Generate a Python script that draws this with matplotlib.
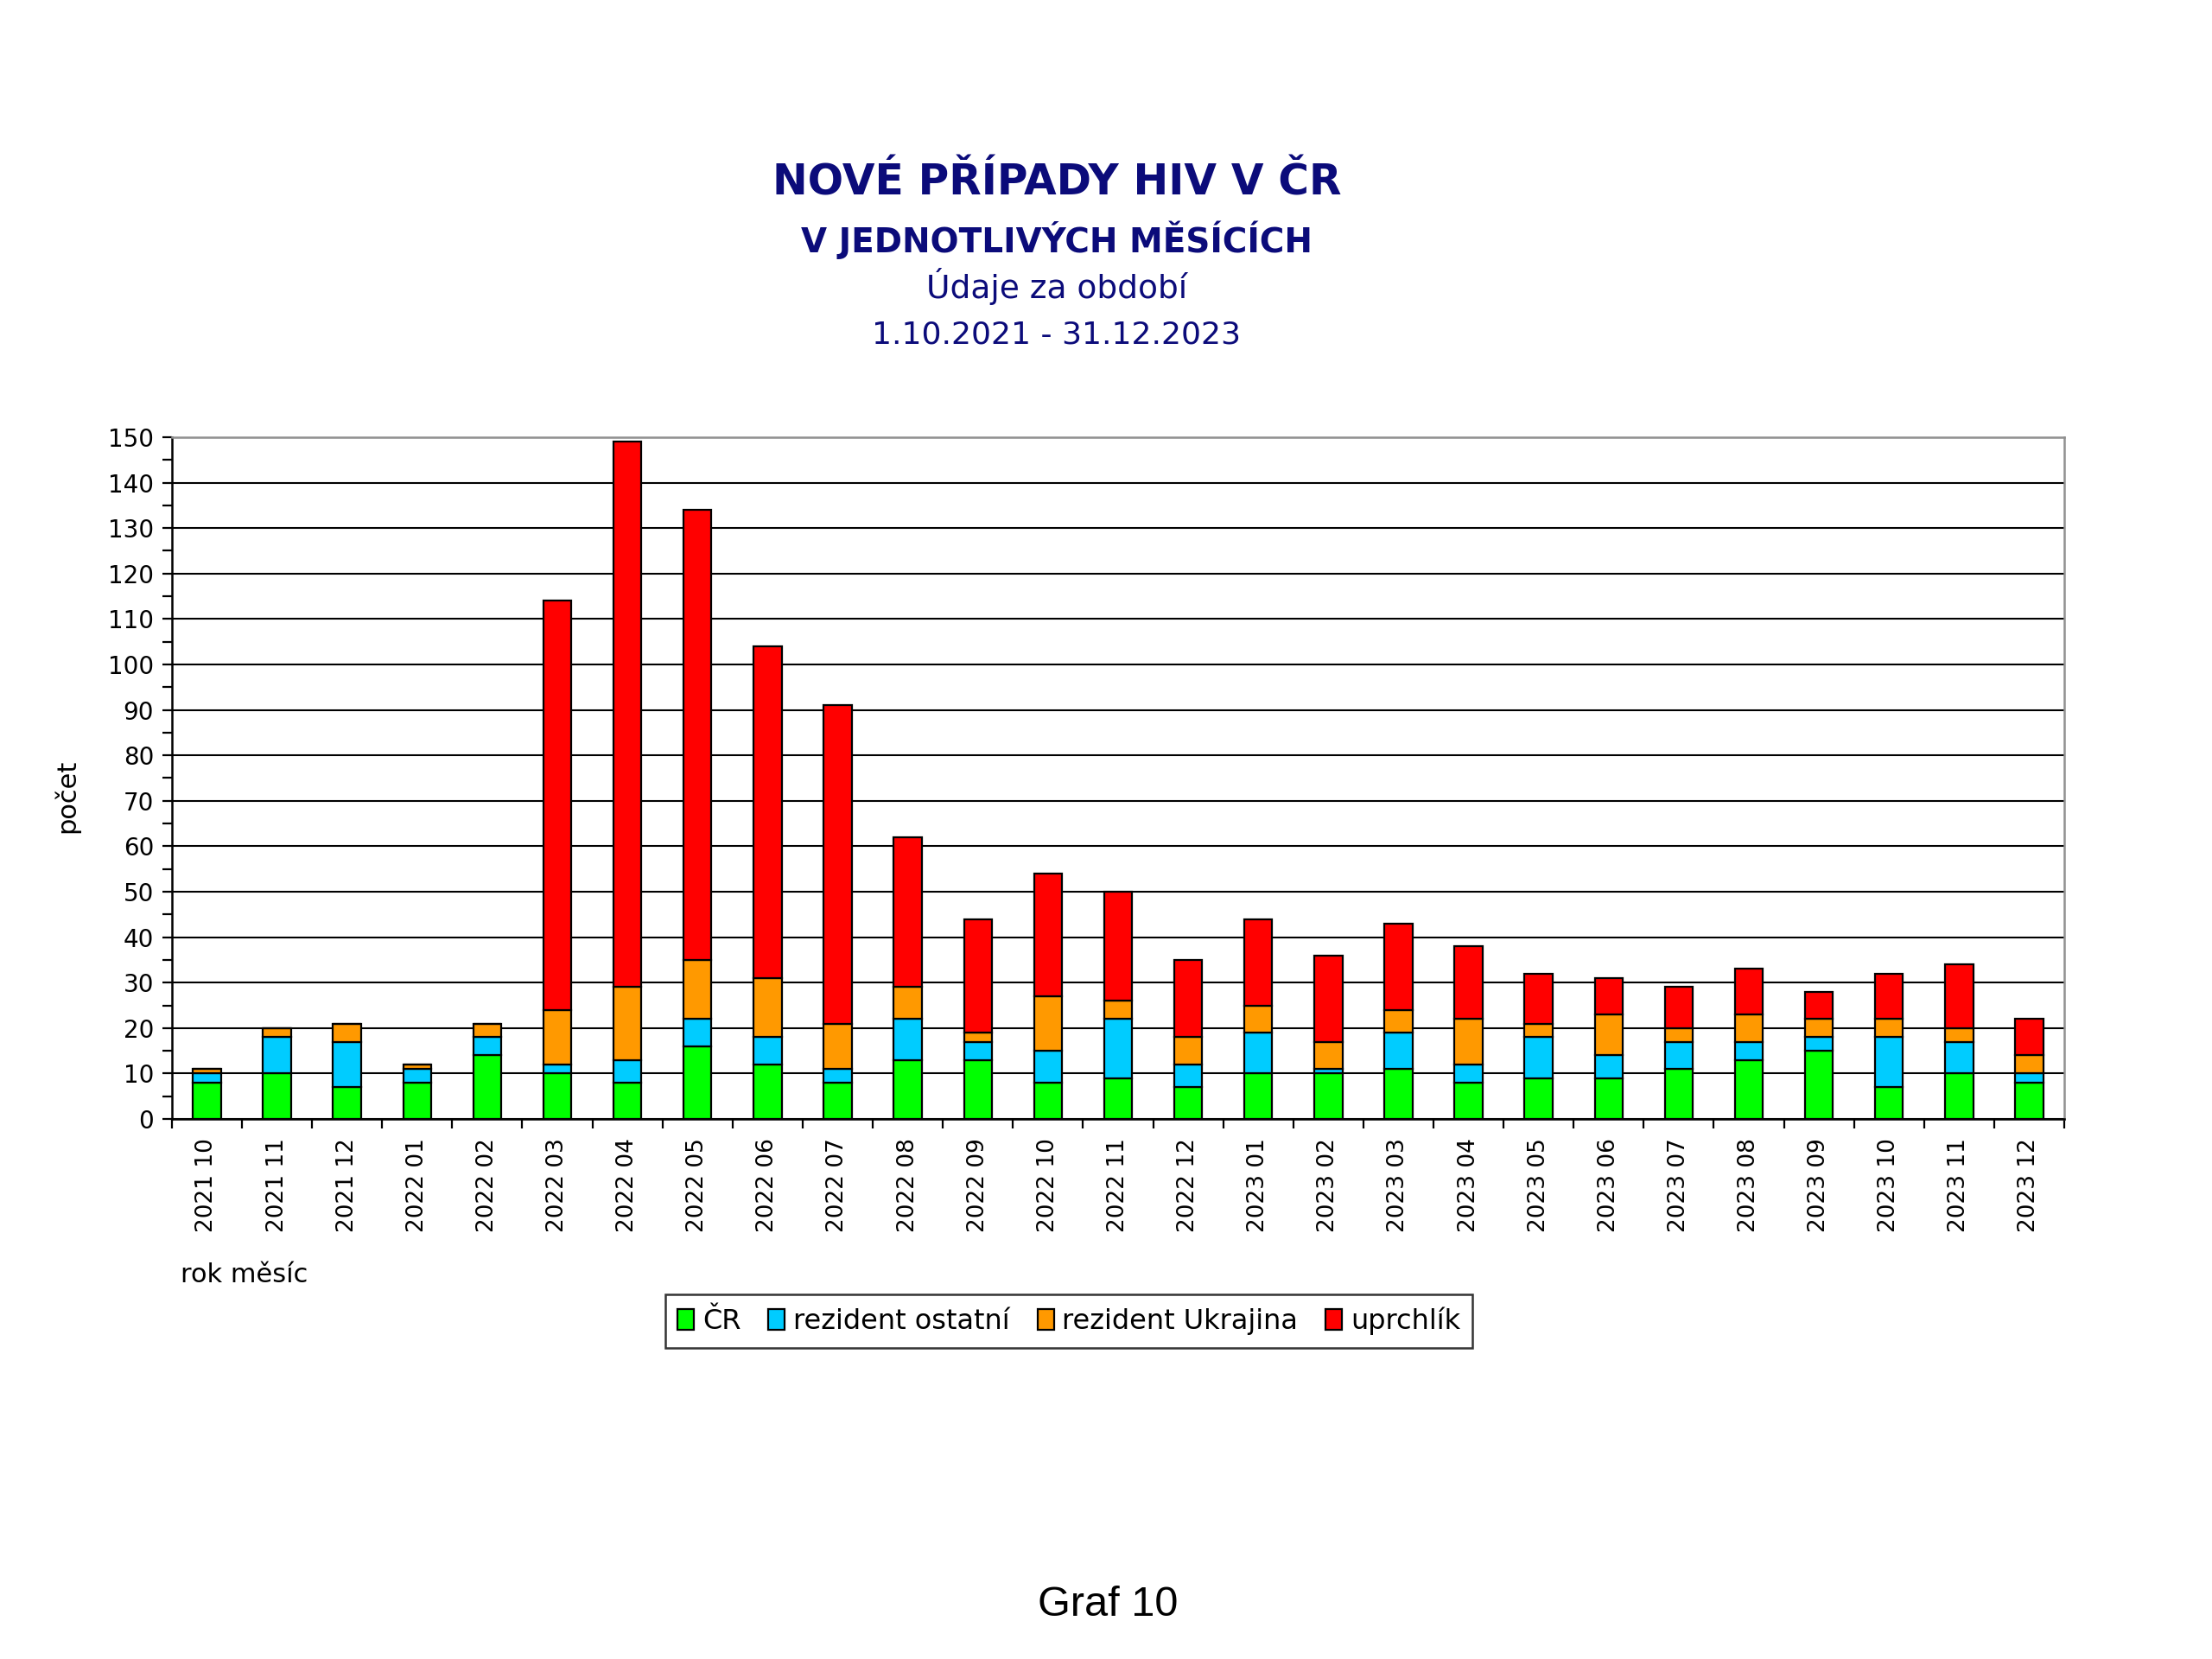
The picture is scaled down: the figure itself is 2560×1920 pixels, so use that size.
import matplotlib
matplotlib.use("Agg")
import matplotlib.pyplot as plt
import numpy as np
from matplotlib.ticker import MultipleLocator, FixedLocator

months = ["2021 10", "2021 11", "2021 12", "2022 01", "2022 02", "2022 03", "2022 04",
          "2022 05", "2022 06", "2022 07", "2022 08", "2022 09", "2022 10", "2022 11",
          "2022 12", "2023 01", "2023 02", "2023 03", "2023 04", "2023 05", "2023 06",
          "2023 07", "2023 08", "2023 09", "2023 10", "2023 11", "2023 12"]
cr =         [8, 10, 7, 8, 14, 10, 8, 16, 12, 8, 13, 13, 8, 9, 7, 10, 10, 11, 8, 9, 9, 11, 13, 15, 7, 10, 8]
rez_ost =    [2, 8, 10, 3, 4, 2, 5, 6, 6, 3, 9, 4, 7, 13, 5, 9, 1, 8, 4, 9, 5, 6, 4, 3, 11, 7, 2]
rez_ukr =    [1, 2, 4, 1, 3, 12, 16, 13, 13, 10, 7, 2, 12, 4, 6, 6, 6, 5, 10, 3, 9, 3, 6, 4, 4, 3, 4]
uprchlik =   [0, 0, 0, 0, 0, 90, 120, 99, 73, 70, 33, 25, 27, 24, 17, 19, 19, 19, 16, 11, 8, 9, 10, 6, 10, 14, 8]
series_names = ["ČR", "rezident ostatní", "rezident Ukrajina", "uprchlík"]
series_colors = ["#00FF00", "#00CCFF", "#FF9900", "#FF0000"]

title1 = "NOVÉ PŘÍPADY HIV V ČR"
title2 = "V JEDNOTLIVÝCH MĚSÍCÍCH"
title3 = "Údaje za období"
title4 = "1.10.2021 - 31.12.2023"

navy = "#0B0B7A"
plt.rcParams['font.family'] = ['DejaVu Sans']

fig = plt.figure(figsize=(12.8, 9.6), dpi=200)
ax = fig.add_axes([0.0777, 0.3255, 0.9332 - 0.0777, 0.7365 - 0.3255])

x = np.arange(len(months))
bottom = np.zeros(len(months))
for vals, name, col in zip([cr, rez_ost, rez_ukr, uprchlik], series_names, series_colors):
    ax.bar(x, vals, width=0.4, bottom=bottom, color=col, edgecolor="black",
           linewidth=0.8, label=name, zorder=3)
    bottom += np.array(vals)

ax.set_xlim(-0.5, len(months) - 0.5)
ax.set_ylim(0, 150)
ax.yaxis.set_major_locator(MultipleLocator(10))
ax.yaxis.set_minor_locator(MultipleLocator(5))
ax.yaxis.grid(True, which="major", color="black", linewidth=0.75, zorder=0)
ax.set_axisbelow(True)

ax.set_xticks(x)
ax.set_xticklabels(months, rotation=90, fontsize=9.5)
ax.xaxis.set_minor_locator(FixedLocator(np.arange(-0.5, len(months), 1.0)))
ax.tick_params(axis="x", which="major", length=0, pad=8)
ax.tick_params(axis="x", which="minor", length=4, width=0.8, direction="out")
ax.tick_params(axis="y", which="both", length=4, width=0.8, direction="out", labelsize=10)

for s in ["left", "bottom"]:
    ax.spines[s].set_color("black")
    ax.spines[s].set_linewidth(0.9)
for s in ["top", "right"]:
    ax.spines[s].set_color("#909090")
    ax.spines[s].set_linewidth(0.9)

fig.text(0.4777, 0.8896, title1, ha="center", va="center", fontsize=17.5,
         fontweight="bold", color=navy)
fig.text(0.4777, 0.8552, title2, ha="center", va="center", fontsize=14,
         fontweight="bold", color=navy)
fig.text(0.4777, 0.8276, title3, ha="center", va="center", fontsize=13.5, color=navy)
fig.text(0.4777, 0.7984, title4, ha="center", va="center", fontsize=13, color=navy)

fig.text(0.030, 0.52, "počet", rotation=90, ha="center", va="center", fontsize=11)
fig.text(0.0816, 0.2313, "rok měsíc", ha="left", va="center", fontsize=11)

leg = fig.legend(loc="center", bbox_to_anchor=(0.4832, 0.2036), ncol=4, fontsize=11.5,
                 frameon=True, fancybox=False, edgecolor="black", handlelength=0.6,
                 handleheight=0.8, handletextpad=0.3, columnspacing=1.0,
                 borderpad=0.45)
leg.get_frame().set_linewidth(0.9)

fig.text(0.5008, 0.0328, "Graf 10", ha="center", va="center", fontsize=17.5,
         family=["Liberation Sans", "DejaVu Sans"])

fig.savefig("out.png", dpi=200, facecolor="white")
